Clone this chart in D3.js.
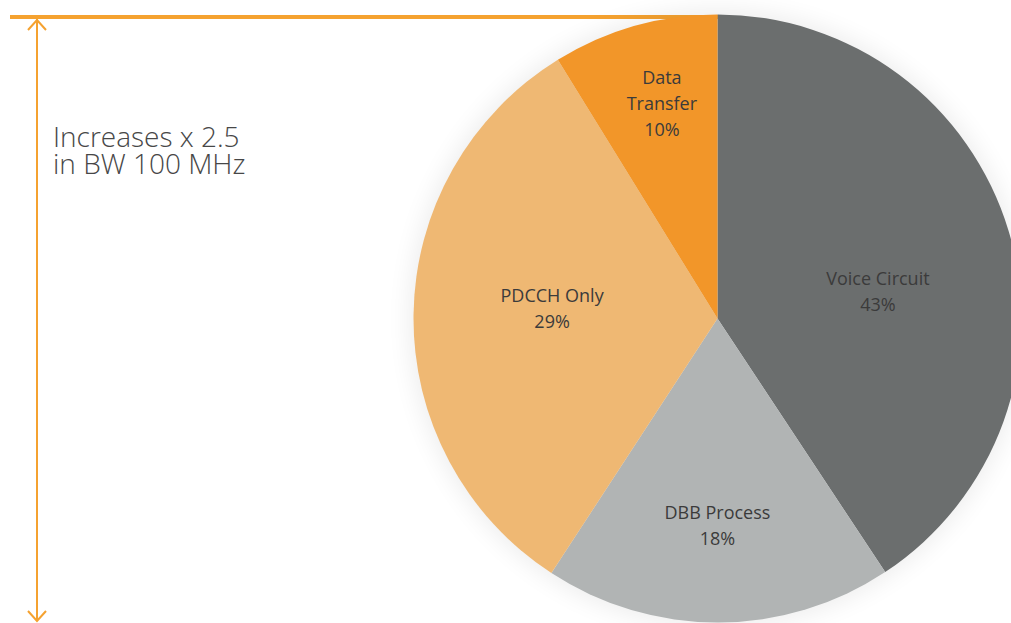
<!DOCTYPE html>
<html>
<head>
<meta charset="utf-8">
<script src="https://cdn.jsdelivr.net/npm/d3@7"></script>
<style>
  body { margin: 0; background: #fff; }
  svg { display: block; }
</style>
</head>
<body>
<svg id="chart" width="1011" height="623"></svg>
<script>
// slice names (split into lines as printed), sizes as drawn, printed percentages
var categories = [["Voice Circuit"], ["DBB Process"], ["PDCCH Only"], ["Data", "Transfer"]];
var shares = [40.7, 18.5, 32.0, 8.8];
var shareLabels = ["43%", "18%", "29%", "10%"];
var colors = ["#6b6e6e", "#b1b4b4", "#efb873", "#f29629"];
var titleLines = ["Increases x 2.5", "in BW 100 MHz"];

// label placement: radius as fraction of pie, angle nudge in degrees
var labelRadius = [0.535, 0.684, 0.545, 0.729];
var labelNudge = [7.3, 0.2, 2.6, 1.3];

var cx = 717.5, cy = 318.5, radius = 304;
var orange = "#f5a230";

var svg = d3.select("#chart");

var defs = svg.append("defs");
var blur = defs.append("filter").attr("id", "halo")
    .attr("x", "-20%").attr("y", "-20%").attr("width", "140%").attr("height", "140%");
blur.append("feGaussianBlur").attr("stdDeviation", 12);

// bracket arrow on the left
svg.append("line")
    .attr("x1", 10).attr("x2", cx + 1).attr("y1", 17).attr("y2", 17)
    .attr("stroke", orange).attr("stroke-width", 4);
svg.append("line")
    .attr("x1", 37).attr("x2", 37).attr("y1", 19).attr("y2", 621)
    .attr("stroke", orange).attr("stroke-width", 2);
svg.append("path")
    .attr("d", "M28,30L37,20L46,30 M28,611L37,621L46,611")
    .attr("fill", "none").attr("stroke", orange).attr("stroke-width", 2);

svg.append("text")
    .attr("x", 53).attr("y", 147)
    .attr("fill", "#474747")
    .style("font-family", "'Open Sans', sans-serif")
    .style("font-weight", 300)
    .style("font-size", "28px")
    .selectAll("tspan")
    .data(titleLines)
    .enter().append("tspan")
    .attr("x", 53)
    .attr("dy", function (d, i) { return i === 0 ? 0 : 27; })
    .text(function (d) { return d; });

// pie
var g = svg.append("g").attr("transform", "translate(" + cx + "," + cy + ")");

g.append("circle")
    .attr("r", radius + 4)
    .attr("fill", "#000")
    .attr("opacity", 0.07)
    .attr("filter", "url(#halo)");

var pie = d3.pie().sort(null).value(function (d) { return d; });
var arcs = pie(shares);
var arc = d3.arc().innerRadius(0).outerRadius(radius);

g.selectAll("path.slice")
    .data(arcs)
    .enter().append("path")
    .attr("class", "slice")
    .attr("d", arc)
    .attr("fill", function (d, i) { return colors[i]; });

var labels = g.selectAll("text.label")
    .data(arcs)
    .enter().append("text")
    .attr("class", "label")
    .attr("text-anchor", "middle")
    .attr("fill", "#3b3b3b")
    .style("font-family", "'Open Sans', sans-serif")
    .style("font-size", "18px")
    .attr("transform", function (d, i) {
      var a = (d.startAngle + d.endAngle) / 2 + labelNudge[i] * Math.PI / 180;
      var p = d3.pointRadial(a, radius * labelRadius[i]);
      return "translate(" + p[0] + "," + p[1] + ")";
    });

labels.each(function (d, i) {
  var lines = categories[i].concat([shareLabels[i]]);
  var lh = 26;
  var top = -(lines.length - 1) * lh / 2 + 6;
  d3.select(this).selectAll("tspan")
      .data(lines)
      .enter().append("tspan")
      .attr("x", 0)
      .attr("y", function (t, j) { return top + j * lh; })
      .text(function (t) { return t; });
});
</script>
</body>
</html>
